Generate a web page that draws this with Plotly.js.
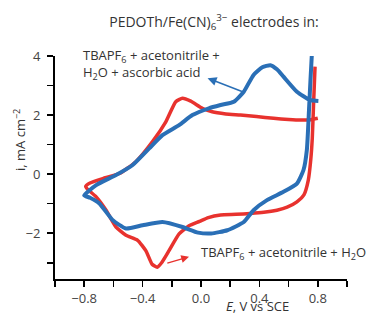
<!DOCTYPE html>
<html>
<head>
<meta charset="utf-8">
<script src="https://cdn.plot.ly/plotly-3.0.1.min.js"></script>
<style>html,body{margin:0;padding:0;background:#fff;}#chart{width:370px;height:315px;}</style>
</head>
<body>
<div id="chart"></div>
<script>
// Red: TBAPF6 + acetonitrile + H2O
var redE = [0.781, 0.772, 0.762, 0.752, 0.735, 0.705, 0.657, 0.59, 0.52, 0.43, 0.338, 0.24, 0.134, 0.05, -0.01, -0.082, -0.15, -0.218, -0.27, -0.30, -0.335, -0.377, -0.434, -0.514, -0.582, -0.65, -0.718, -0.775, -0.79,
            -0.76, -0.673, -0.559, -0.446, -0.332, -0.241, -0.173, -0.127, -0.07, 0.009, 0.077, 0.17, 0.27, 0.38, 0.497, 0.60, 0.68, 0.75, 0.80];
var redI = [3.64, 2.5, 1.2, 0.5, -0.2, -0.7, -0.94, -1.12, -1.22, -1.29, -1.33, -1.36, -1.38, -1.47, -1.6, -1.75, -2.02, -2.58, -3.0, -3.15, -3.05, -2.6, -2.24, -2.07, -1.79, -1.22, -0.77, -0.52, -0.42,
            -0.3, -0.15, 0.02, 0.42, 1.10, 1.77, 2.45, 2.57, 2.47, 2.23, 2.11, 2.04, 2.0, 1.95, 1.89, 1.85, 1.83, 1.84, 1.89];
// Blue: TBAPF6 + acetonitrile + H2O + ascorbic acid
var blueE = [0.759, 0.75, 0.74, 0.725, 0.702, 0.657, 0.565, 0.452, 0.36, 0.293, 0.18, 0.07, -0.02, -0.127, -0.264, -0.4, -0.514, -0.604, -0.696, -0.76, -0.8,
             -0.718, -0.582, -0.468, -0.355, -0.264, -0.15, -0.059, 0.054, 0.134, 0.225, 0.293, 0.36, 0.42, 0.475, 0.52, 0.565, 0.657, 0.747, 0.804];
var blueI = [4.03, 3.2, 2.2, 0.82, 0.14, -0.32, -0.6, -0.88, -1.22, -1.62, -1.9, -2.01, -1.98, -1.79, -1.62, -1.73, -1.84, -1.56, -0.99, -0.8, -0.72,
             -0.37, -0.03, 0.31, 0.87, 1.32, 1.66, 2.0, 2.23, 2.34, 2.45, 2.79, 3.36, 3.62, 3.69, 3.55, 3.3, 2.79, 2.51, 2.48];

var xTickVals = [-0.8, -0.4, 0.0, 0.4, 0.8];
var xTickText = ['\u22120.8', '\u22120.4', '0.0', '0.4', '0.8'];
var yTickVals = [-2, 0, 2, 4];
var yTickText = ['\u22122', '0', '2', '4'];

var RED = '#e8322e', BLUE = '#2a6fb6';
var FONT = 'Open Sans, Arial, sans-serif';
var FS = 13;

var traces = [
  {x: redE, y: redI, mode: 'lines', line: {color: RED, width: 3.5, shape: 'spline', smoothing: 0.5}, hoverinfo: 'skip'},
  {x: blueE, y: blueI, mode: 'lines', line: {color: BLUE, width: 4, shape: 'spline', smoothing: 0.5}, hoverinfo: 'skip'}
];

var layout = {
  width: 370, height: 315,
  margin: {l: 55, r: 23, t: 56, b: 36},
  paper_bgcolor: '#fff', plot_bgcolor: '#fff',
  showlegend: false,
  font: {family: FONT, size: FS, color: '#333'},
  title: {text: 'PEDOTh/Fe(CN)<sub>6</sub><sup>3\u2212</sup> electrodes in:', x: 214/370, xref: 'container', xanchor: 'center', y: 1 - 22/315, yref: 'container', yanchor: 'middle', font: {family: FONT, size: 14, color: '#333'}},
  xaxis: {range: [-1, 1], showline: true, linecolor: '#000', linewidth: 2, showgrid: false, zeroline: false,
          tickmode: 'array', tickvals: xTickVals, ticktext: xTickText, ticks: 'outside', ticklen: 6, tickwidth: 1.5, tickcolor: '#000',
          ticklabelstandoff: 0,
          minor: {tickmode: 'array', tickvals: [-1, -0.6, -0.2, 0.2, 0.6, 1.0], ticks: 'outside', ticklen: 6, tickwidth: 1.5, tickcolor: '#000'},
          tickfont: {family: FONT, size: FS, color: '#444'}, fixedrange: true},
  yaxis: {range: [-3.55, 4], showline: true, linecolor: '#000', linewidth: 2, showgrid: false, zeroline: false,
          tickmode: 'array', tickvals: yTickVals, ticktext: yTickText, ticks: 'outside', ticklen: 6, tickwidth: 1.5, tickcolor: '#000',
          ticklabelstandoff: 4,
          minor: {tickmode: 'array', tickvals: [-3, -1, 1, 3], ticks: 'outside', ticklen: 6, tickwidth: 1.5, tickcolor: '#000'},
          tickfont: {family: FONT, size: FS, color: '#444'}, fixedrange: true},
  annotations: [
    {text: 'TBAPF<sub>6</sub> + acetonitrile +<br>H<sub>2</sub>O + ascorbic acid', x: -0.82, y: 3.72, xref: 'x', yref: 'y', xanchor: 'left', yanchor: 'middle', align: 'left', showarrow: false, font: {family: FONT, size: FS, color: '#333'}},
    {text: 'TBAPF<sub>6</sub> + acetonitrile + H<sub>2</sub>O', x: -0.012, y: -2.68, xref: 'x', yref: 'y', xanchor: 'left', yanchor: 'middle', showarrow: false, font: {family: FONT, size: FS, color: '#333'}},
    {text: '', x: 0.045, y: 3.25, xref: 'x', yref: 'y', ax: 0.291, ay: 2.78, axref: 'x', ayref: 'y', showarrow: true, arrowhead: 2, arrowsize: 1.2, arrowwidth: 1.5, arrowcolor: BLUE},
    {text: '', x: -0.082, y: -2.80, xref: 'x', yref: 'y', ax: -0.241, ay: -3.03, axref: 'x', ayref: 'y', showarrow: true, arrowhead: 2, arrowsize: 1.2, arrowwidth: 1.3, arrowcolor: RED},
    {text: 'i, mA cm<sup>\u22122</sup>', textangle: -90, x: (19-55)/292, y: (279-140)/223, xref: 'paper', yref: 'paper', xanchor: 'center', yanchor: 'middle', showarrow: false, font: {family: FONT, size: FS, color: '#333'}},
    {text: '<i>E</i>, V vs SCE', x: (257-55)/292, y: (279-306)/223, xref: 'paper', yref: 'paper', xanchor: 'center', yanchor: 'middle', showarrow: false, font: {family: FONT, size: 13, color: '#333'}}
  ]
};

Plotly.newPlot('chart', traces, layout, {displayModeBar: false, staticPlot: true});
</script>
</body>
</html>
